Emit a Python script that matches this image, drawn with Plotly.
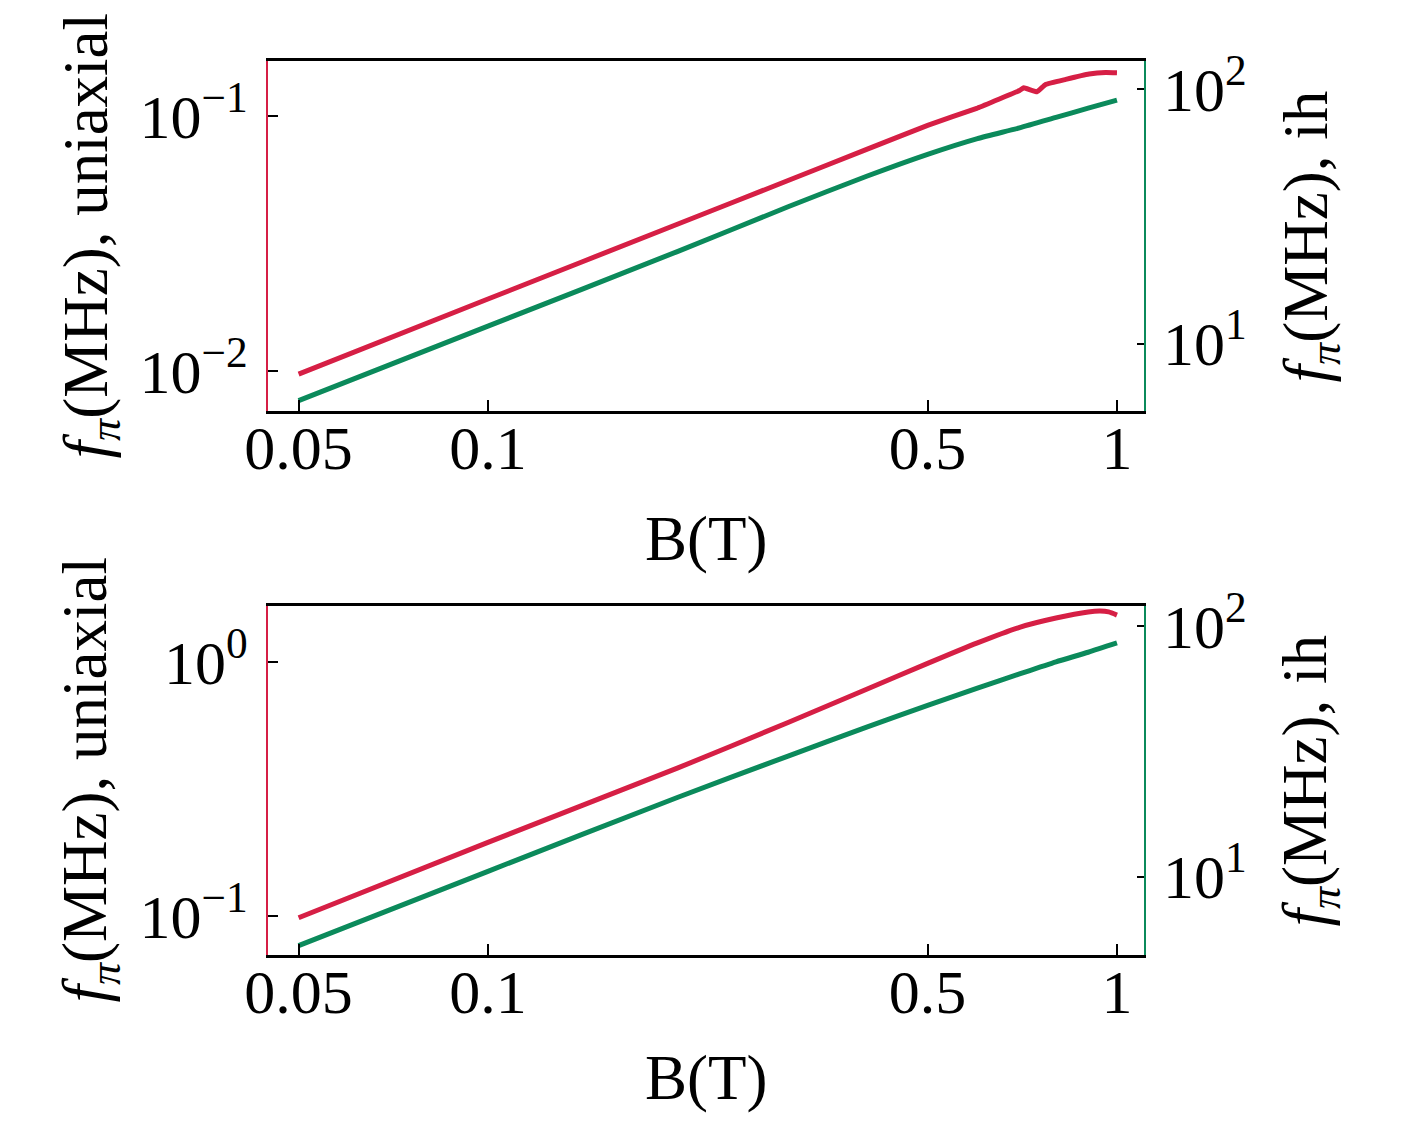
import numpy as np
import plotly.graph_objects as go

W, H = 1412, 1121
RED = '#D61F45'
GREEN = '#0B8A5B'
FONT = 'Liberation Serif'
OFF = 8  # page body margin added by the browser

# panel (a): uniaxial (left axis, red) and ih (right axis, green), f_pi in MHz vs B in T
b_uni_a = [0.05, 0.1, 0.2, 0.3, 0.4, 0.5, 0.6, 0.7, 0.711, 0.746, 0.77, 0.829, 0.903, 0.959, 1.0]
f_uni_a = [0.00975, 0.0192, 0.0377, 0.0559, 0.0740, 0.0920, 0.1075, 0.1260, 0.129, 0.1245,
           0.133, 0.1392, 0.146, 0.148, 0.1477]
b_ih_a = [0.05, 0.1, 0.2, 0.3, 0.4, 0.5, 0.6, 0.7, 0.8, 0.9, 1.0]
f_ih_a = [5.96, 11.7, 23.0, 34.5, 45.5, 55.5, 64.0, 70.5, 77.5, 84.3, 90.7]

# panel (b)
b_uni_b = [0.05, 0.1, 0.2, 0.3, 0.4, 0.5, 0.6, 0.7, 0.8, 0.9, 0.94, 0.97, 1.0]
f_uni_b = [0.0984, 0.195, 0.382, 0.578, 0.781, 0.988, 1.19, 1.37, 1.49, 1.575, 1.588, 1.575, 1.53]
b_ih_b = [0.05, 0.1, 0.2, 0.3, 0.4, 0.5, 0.6, 0.7, 0.8, 0.9, 1.0]
f_ih_b = [5.30, 10.5, 20.7, 30.3, 39.5, 48.3, 56.6, 64.5, 72.1, 78.7, 85.7]

x_ticks = [0.05, 0.1, 0.5, 1]
x_ticktext = ['0.05', '0.1', '0.5', '1']

# plot-area pixel boxes in the target picture (left, right / top, bottom)
X0, X1 = 268 - OFF, 1143.5 - OFF
PANELS = [(61.4 - OFF, 411.4 - OFF), (605.8 - OFF, 955.3 - OFF)]
XLAB_GAP = [128, 123]

fig = go.Figure()

fig.add_trace(go.Scatter(x=b_uni_a, y=f_uni_a, mode='lines',
                         line=dict(color=RED, width=5, shape='spline', smoothing=0.3),
                         xaxis='x', yaxis='y', showlegend=False))
fig.add_trace(go.Scatter(x=b_ih_a, y=f_ih_a, mode='lines',
                         line=dict(color=GREEN, width=5, shape='spline', smoothing=0.6),
                         xaxis='x', yaxis='y2', showlegend=False))
fig.add_trace(go.Scatter(x=b_uni_b, y=f_uni_b, mode='lines',
                         line=dict(color=RED, width=5, shape='spline', smoothing=0.6),
                         xaxis='x2', yaxis='y3', showlegend=False))
fig.add_trace(go.Scatter(x=b_ih_b, y=f_ih_b, mode='lines',
                         line=dict(color=GREEN, width=5, shape='spline', smoothing=0.6),
                         xaxis='x2', yaxis='y4', showlegend=False))

xdom = [X0 / W, X1 / W]
ydoms = [[1 - b / H, 1 - t / H] for t, b in PANELS]
tick_font = dict(family=FONT, size=62, color='black')

xax = dict(type='log', range=[np.log10(0.0447), np.log10(1.102)], domain=xdom,
           tickvals=x_ticks, ticktext=x_ticktext, ticks='inside', ticklen=11, tickwidth=2,
           tickcolor='black', showline=True, linecolor='black', linewidth=3, mirror=True,
           showgrid=False, zeroline=False, tickfont=tick_font, automargin=False,
           ticklabelstandoff=-20)

def yax(rng, dom, vals, text, color, side, ticklen, anchor, standoff, overlay=None):
    d = dict(type='log', range=rng, domain=dom, tickvals=vals, ticktext=text,
             ticks='inside', ticklen=ticklen, tickwidth=2, tickcolor='black',
             showline=True, linecolor=color, linewidth=2, showgrid=False, zeroline=False,
             side=side, anchor=anchor, tickfont=tick_font, automargin=False,
             ticklabelstandoff=standoff)
    if overlay:
        d['overlaying'] = overlay
    return d

fig.update_layout(
    xaxis=dict(xax, anchor='y'),
    xaxis2=dict(xax, anchor='y3'),
    yaxis=yax([np.log10(0.00697), np.log10(0.1637)], ydoms[0], [0.01, 0.1],
              ['10<sup>−2</sup>', '10<sup>−1</sup>'], RED, 'left', 10, 'x', 6),
    yaxis2=yax([0.733, 2.1097], ydoms[0], [10, 100],
               ['10<sup>1</sup>', '10<sup>2</sup>'], GREEN, 'right', 7, 'x', 5, 'y'),
    yaxis3=yax([-1.1547, 0.2213], ydoms[1], [0.1, 1],
               ['10<sup>−1</sup>', '10<sup>0</sup>'], RED, 'left', 10, 'x2', 6),
    yaxis4=yax([0.6857, 2.0815], ydoms[1], [10, 100],
               ['10<sup>1</sup>', '10<sup>2</sup>'], GREEN, 'right', 7, 'x2', 5, 'y3'),
)

ann = []
lab_font = dict(family=FONT, size=63, color='black')
for (t, b), gap in zip(PANELS, XLAB_GAP):
    yc = 1 - (t + b) / 2 / H
    ann.append(dict(text='<i>f</i><sub><i>π</i></sub>(MHz), uniaxial', x=(90 - OFF) / W, y=yc,
                    xref='paper', yref='paper', textangle=-90, showarrow=False,
                    xanchor='center', yanchor='middle', font=lab_font))
    ann.append(dict(text='<i>f</i><sub><i>π</i></sub>(MHz), ih', x=(1310 - OFF) / W, y=yc,
                    xref='paper', yref='paper', textangle=-90, showarrow=False,
                    xanchor='center', yanchor='middle', font=lab_font))
    ann.append(dict(text='B(T)', x=(X0 + X1) / 2 / W, y=1 - (b + gap) / H,
                    xref='paper', yref='paper', showarrow=False,
                    xanchor='center', yanchor='middle', font=lab_font))

fig.update_layout(
    width=W, height=H, autosize=False,
    margin=dict(l=0, r=0, t=0, b=0, pad=0, autoexpand=False),
    paper_bgcolor='white', plot_bgcolor='white',
    annotations=ann,
)

fig.write_html('out.html')
